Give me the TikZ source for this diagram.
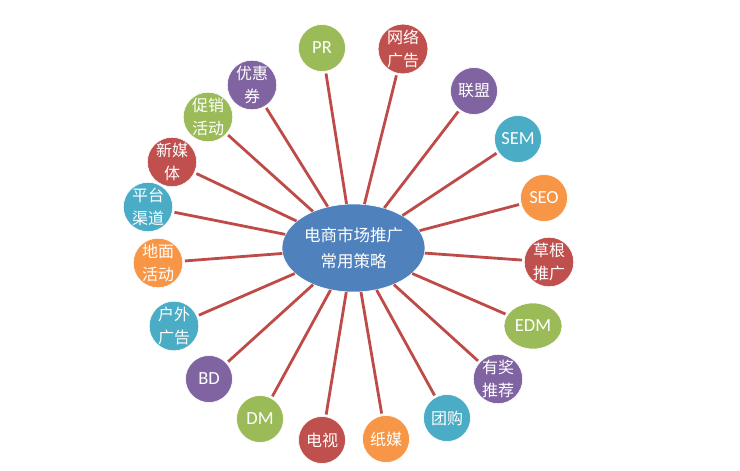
\documentclass[tikz,border=0pt]{standalone}
\usepackage{fontspec}
\usetikzlibrary{shapes.geometric}
\setmainfont{Carlito}
\newfontfamily\cjk{Noto Sans CJK SC}
\definecolor{ored}{HTML}{C0504D}
\definecolor{ogreen}{HTML}{9BBB59}
\definecolor{opurple}{HTML}{8064A2}
\definecolor{oaqua}{HTML}{4BACC6}
\definecolor{oorange}{HTML}{F79646}
\definecolor{oblue}{HTML}{4F81BD}
\definecolor{linkred}{HTML}{BE4B48}
\begin{document}
\begin{tikzpicture}[x=1pt,y=-1pt,
  bub/.style={circle, minimum size=47pt, inner sep=0pt, draw=white, line width=0.6pt,
    text=white, align=center, font=\cjk\fontsize{16}{23}\selectfont},
  lat/.style={bub, font=\fontsize{18.5}{20}\selectfont},
  hub/.style={ellipse, minimum width=143pt, minimum height=88pt, inner sep=0pt,
    fill=oblue, draw=white, line width=0.6pt, text=white, align=center,
    font=\cjk\fontsize{16.5}{26}\selectfont},
  link/.style={draw=linkred, line width=2.8pt, shorten >=2pt}]
\useasboundingbox (0,0) rectangle (740,471);
\node[hub] (c) at (353.5,248) {电商市场推广\\常用策略};
\node[lat, fill=ogreen] (pr) at (322,48) {PR};
\node[bub, fill=ored] (wl) at (403,49) {网络\\广告};
\node[bub, fill=opurple] (lm) at (474,91) {联盟};
\node[lat, fill=oaqua] (sem) at (518,139) {SEM};
\node[lat, fill=oorange] (seo) at (544,198) {SEO};
\node[bub, fill=ored] (cg) at (549,262) {草根\\推广};
\node[lat, fill=ogreen, ellipse, minimum width=58pt, minimum height=46pt] (edm) at (533,326) {EDM};
\node[bub, fill=opurple] (yj) at (498,379) {有奖\\推荐};
\node[bub, fill=oaqua] (tg) at (447,418) {团购};
\node[bub, fill=oorange] (zm) at (386,439) {纸媒};
\node[bub, fill=ored] (ds) at (322,440) {电视};
\node[lat, fill=ogreen] (dm) at (260,419) {DM};
\node[lat, fill=opurple] (bd) at (209,379) {BD};
\node[bub, fill=oaqua] (hw) at (174,326) {户外\\广告};
\node[bub, fill=oorange] (dmh) at (158,263) {地面\\活动};
\node[bub, fill=oaqua] (pt) at (148,207) {平台\\渠道};
\node[bub, fill=ored] (xm) at (172,162) {新媒\\体};
\node[bub, fill=ogreen] (cx) at (208,117) {促销\\活动};
\node[bub, fill=opurple] (yh) at (252,85) {优惠\\券};
\foreach \n in {pr,wl,lm,sem,seo,cg,edm,yj,tg,zm,ds,dm,bd,hw,dmh,pt,xm,cx,yh}
  \draw[link] (c) -- (\n);
\end{tikzpicture}
\end{document}
